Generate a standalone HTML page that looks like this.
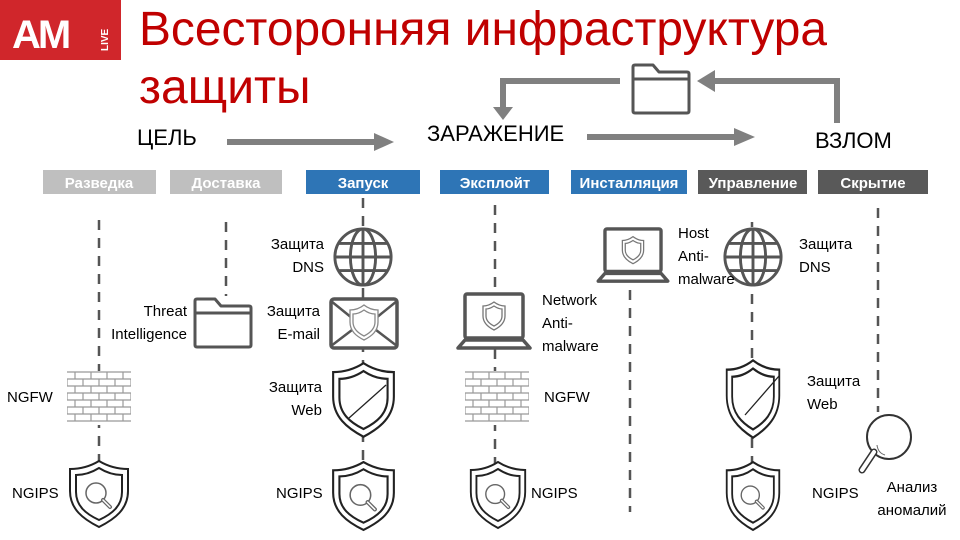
<!DOCTYPE html>
<html><head><meta charset="utf-8"><style>
body{margin:0;width:960px;height:540px;background:#fff;overflow:hidden;position:relative;font-family:"Liberation Sans","DejaVu Sans",sans-serif}
svg{position:absolute;left:0;top:0}
</style></head><body>
<svg width="960" height="540" viewBox="0 0 960 540" xmlns="http://www.w3.org/2000/svg">
<defs>
<symbol id="shield" viewBox="0 0 64 70" preserveAspectRatio="none">
<path d="M32 2 C22 8 12 10 3 10 L3 32 C3 50 16 60 32 68 C48 60 61 50 61 32 L61 10 C52 10 42 8 32 2Z" fill="#fff" stroke="#222" stroke-width="2"/>
<path d="M32 9 C24 14 16 16 9 16 L9 33 C9 47 19 55 32 61 C45 55 55 47 55 33 L55 16 C48 16 40 14 32 9Z" fill="none" stroke="#222" stroke-width="2"/>
</symbol>
<symbol id="mag" viewBox="0 0 64 70">
<circle cx="29" cy="34" r="10" fill="none" stroke="#666" stroke-width="1.5"/>
<path d="M36 41 L43 48" stroke="#666" stroke-width="4" stroke-linecap="round"/>
<path d="M36 41 L43 48" stroke="#fff" stroke-width="1.5" stroke-linecap="round"/>
</symbol>
<symbol id="wall" viewBox="0 0 64 54">
<g stroke="#999" stroke-width="1.2" fill="none">
<path d="M0 1H64M0 8H64M0 15H64M0 22H64M0 29H64M0 36H64M0 43H64M0 50H64"/>
<path d="M8 1V8M24 1V8M40 1V8M56 1V8M0 8V15M16 8V15M32 8V15M48 8V15M64 8V15M8 15V22M24 15V22M40 15V22M56 15V22M0 22V29M16 22V29M32 22V29M48 22V29M64 22V29M8 29V36M24 29V36M40 29V36M56 29V36M0 36V43M16 36V43M32 36V43M48 36V43M64 36V43M8 43V50M24 43V50M40 43V50M56 43V50"/>
</g></symbol>
<symbol id="globe" viewBox="0 0 64 64">
<g fill="none" stroke="#555" stroke-width="3">
<circle cx="32" cy="32" r="29"/>
<ellipse cx="32" cy="32" rx="13" ry="29"/>
<path d="M32 3V61M3 32H61M7 18H57M7 46H57"/>
</g></symbol>
<symbol id="folder" viewBox="0 0 60 52">
<path d="M4 2 H22 L28 9 H56 Q58 9 58 11 V48 Q58 50 56 50 H4 Q2 50 2 48 V4 Q2 2 4 2Z M2 16 H58" fill="#fff" stroke="#555" stroke-width="3" stroke-linejoin="round"/>
</symbol>
<symbol id="laptop" viewBox="0 0 76 60">
<rect x="9" y="2" width="58" height="44" rx="2" fill="#fff" stroke="#555" stroke-width="3.5"/>
<path d="M2 56 L9 48 H67 L74 56Z" fill="#fff" stroke="#555" stroke-width="3.5" stroke-linejoin="round"/>
<path d="M38 10 C34 13 30 14 27 14 V24 C27 31 32 35 38 38 C44 35 49 31 49 24 V14 C46 14 42 13 38 10Z" fill="none" stroke="#777" stroke-width="1.3"/>
<path d="M38 14 C35 16 32 17 30 17 V24 C30 29 34 32 38 34 C42 32 46 29 46 24 V17 C44 17 41 16 38 14Z" fill="none" stroke="#777" stroke-width="1.3"/>
</symbol>
</defs>

<!-- logo -->
<rect x="0" y="0" width="121" height="60" fill="#d0262b"/>
<text x="12" y="48" font-size="40" font-weight="bold" fill="#fff" font-family="Liberation Sans" letter-spacing="-3">AM</text>
<text transform="translate(108,51) rotate(-90)" font-size="10" font-weight="bold" fill="#fff">LIVE</text>

<text x="139" y="45" font-size="48" fill="#c00000" textLength="688" lengthAdjust="spacingAndGlyphs">Всесторонняя инфраструктура</text>
<text x="139" y="103" font-size="48" fill="#c00000">защиты</text>

<!-- stage labels -->
<g font-size="22" fill="#000">
<text x="137" y="145">ЦЕЛЬ</text>
<text x="427" y="141">ЗАРАЖЕНИЕ</text>
<text x="815" y="148">ВЗЛОМ</text>
</g>
<g fill="#808080">
<rect x="227" y="139" width="150" height="6"/><path d="M374 133 L394 142 L374 151Z"/>
<rect x="587" y="134" width="150" height="6"/><path d="M734 128 L755 137 L734 146Z"/>
<rect x="834" y="78" width="6" height="45"/>
<rect x="712" y="78" width="128" height="6"/><path d="M715 70 L697 81 L715 92Z"/>
<rect x="500" y="78" width="120" height="6"/>
<rect x="500" y="78" width="6" height="30"/><path d="M493 107 L513 107 L503 120Z"/>
</g>
<use href="#folder" x="631" y="63" width="60" height="52"/>

<!-- tabs -->
<g font-size="15" font-weight="bold" fill="#fff" text-anchor="middle">
<rect x="43" y="170" width="113" height="24" fill="#bfbfbf"/><text x="99" y="188">Разведка</text>
<rect x="170" y="170" width="112" height="24" fill="#bfbfbf"/><text x="226" y="188">Доставка</text>
<rect x="306" y="170" width="114" height="24" fill="#2e75b6"/><text x="363" y="188">Запуск</text>
<rect x="440" y="170" width="109" height="24" fill="#2e75b6"/><text x="495" y="188">Эксплойт</text>
<rect x="571" y="170" width="116" height="24" fill="#2e75b6"/><text x="629" y="188">Инсталляция</text>
<rect x="698" y="170" width="109" height="24" fill="#595959"/><text x="753" y="188">Управление</text>
<rect x="818" y="170" width="110" height="24" fill="#595959"/><text x="873" y="188">Скрытие</text>
</g>

<!-- dashed lines -->
<g stroke="#555" stroke-width="2.5" stroke-dasharray="10,8" fill="none">
<path d="M99 220V470"/>
<path d="M226 222V296"/>
<path d="M363 198V470"/>
<path d="M495 205V470"/>
<path d="M630 290V512"/>
<path d="M752 222V470"/>
<path d="M878 208V412"/>
</g>

<!-- col1 -->
<rect x="67" y="371" width="64" height="54" fill="#fff"/>
<use href="#wall" x="67" y="371" width="64" height="54"/>
<use href="#shield" x="67" y="459" width="64" height="70"/>
<use href="#mag" x="67" y="459" width="64" height="70"/>

<!-- col2 -->
<use href="#folder" x="193" y="297" width="60" height="52"/>

<!-- col3 -->
<circle cx="363" cy="257" r="30" fill="#fff"/>
<use href="#globe" x="332" y="226" width="62" height="62"/>
<rect x="331" y="299" width="66" height="49" rx="3" fill="#fff" stroke="#555" stroke-width="3.5"/>
<path d="M331 301 L352 318 M397 301 L376 318 M331 346 L352 330 M397 346 L376 330" stroke="#555" stroke-width="2.5"/>
<path d="M364 305 C359 309 354 310 350 310 V322 C350 331 356 336 364 340 C372 336 378 331 378 322 V310 C374 310 369 309 364 305Z" fill="#fff" stroke="#888" stroke-width="1.3"/>
<path d="M364 310 C360 313 356 314 353 314 V322 C353 329 358 333 364 336 C370 333 375 329 375 322 V314 C372 314 368 313 364 310Z" fill="none" stroke="#888" stroke-width="1.3"/>
<use href="#shield" x="330" y="361" width="67" height="78"/>
<path d="M349 418 L386 385" stroke="#222" stroke-width="1.3"/>
<use href="#shield" x="330" y="460" width="67" height="72"/>
<use href="#mag" x="330" y="460" width="67" height="72"/>

<!-- col4 -->
<use href="#laptop" x="456" y="292" width="76" height="60"/>
<rect x="465" y="371" width="64" height="54" fill="#fff"/>
<use href="#wall" x="465" y="371" width="64" height="54"/>
<use href="#shield" x="468" y="460" width="60" height="70"/>
<use href="#mag" x="468" y="460" width="60" height="70"/>

<!-- col5 -->
<use href="#laptop" x="595" y="227" width="76" height="58"/>

<!-- col6 -->
<circle cx="753" cy="257" r="30" fill="#fff"/>
<use href="#globe" x="722" y="226" width="62" height="62"/>
<use href="#shield" x="724" y="358" width="58" height="82"/>
<path d="M745 415 L779 376" stroke="#222" stroke-width="1.3"/>
<use href="#shield" x="724" y="460" width="58" height="72"/>
<use href="#mag" x="724" y="460" width="58" height="72"/>

<!-- col7 -->
<circle cx="889" cy="437" r="22" fill="#fff" stroke="#333" stroke-width="2"/>
<path d="M877 445 Q878 453 885 455" stroke="#666" stroke-width="1" fill="none"/>
<path d="M874 452 L862 470" stroke="#333" stroke-width="7" stroke-linecap="round"/>
<path d="M874 452 L862 470" stroke="#fff" stroke-width="4" stroke-linecap="round"/>

<!-- labels -->
<g font-size="15" fill="#000">
<text x="7" y="402">NGFW</text>
<text x="12" y="498">NGIPS</text>
<text x="187" y="316" text-anchor="end">Threat</text>
<text x="187" y="339" text-anchor="end">Intelligence</text>
<text x="324" y="249" text-anchor="end">Защита</text>
<text x="324" y="272" text-anchor="end">DNS</text>
<text x="320" y="316" text-anchor="end">Защита</text>
<text x="320" y="339" text-anchor="end">E-mail</text>
<text x="322" y="392" text-anchor="end">Защита</text>
<text x="322" y="415" text-anchor="end">Web</text>
<text x="276" y="498">NGIPS</text>
<text x="542" y="305">Network</text>
<text x="542" y="328">Anti-</text>
<text x="542" y="351">malware</text>
<text x="544" y="402">NGFW</text>
<text x="531" y="498">NGIPS</text>
<text x="678" y="238">Host</text>
<text x="678" y="261">Anti-</text>
<text x="678" y="284">malware</text>
<text x="799" y="249">Защита</text>
<text x="799" y="272">DNS</text>
<text x="807" y="386">Защита</text>
<text x="807" y="409">Web</text>
<text x="812" y="498">NGIPS</text>
<text x="912" y="492" text-anchor="middle">Анализ</text>
<text x="912" y="515" text-anchor="middle">аномалий</text>
</g>
</svg>
</body></html>
